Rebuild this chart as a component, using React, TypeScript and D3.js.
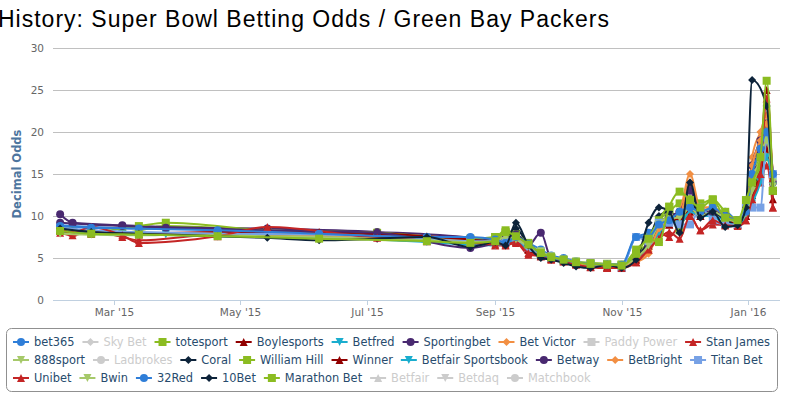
import React from 'react';
import * as d3 from 'd3';

const N = null;

// observation dates shared by all bookmakers
const dates = [
  '2015-02-03', '2015-02-09', '2015-02-18', '2015-03-05', '2015-03-13', '2015-03-26',
  '2015-04-20', '2015-05-14', '2015-06-08', '2015-07-06', '2015-07-30', '2015-08-20',
  '2015-09-01', '2015-09-06', '2015-09-11', '2015-09-17', '2015-09-23', '2015-09-28',
  '2015-10-04', '2015-10-10', '2015-10-17', '2015-10-25', '2015-11-01', '2015-11-08',
  '2015-11-14', '2015-11-19', '2015-11-24', '2015-11-29', '2015-12-04', '2015-12-09',
  '2015-12-15', '2015-12-21', '2015-12-27', '2015-12-31', '2016-01-03', '2016-01-07',
  '2016-01-10', '2016-01-13',
];

const bet365 = [8.9, N, 8.7, N, 8.5, 8.5, N, 8.1, N, 7.8, N, 7.2, 7.0, 7.2, 7.6, 6.8, 6.0, 5.3, 5.0, 4.6, 4.3, 4.2, 4.1, 7.5, 8.0, 9.0, 9.5, 10.0, 11.0, 10.5, 10.0, 10.5, 9.5, 10.5, 15.0, 17.0, 20.0, 15.0];
const totesport = [8.3, 8.2, N, 8.0, N, 8.8, N, 8.2, N, 7.7, N, 7.0, 7.5, 8.0, 7.5, 6.5, 5.5, 5.0, 4.7, 4.5, 4.3, 4.3, 4.2, 5.5, 7.0, 9.5, 10.5, 11.5, 11.0, 10.5, 11.0, 10.0, 9.5, 10.5, 13.0, 15.0, 17.0, 13.0];
const boylesports = [8.4, N, 8.0, N, 7.8, N, 7.9, N, 7.9, N, 7.5, 7.2, 7.0, 6.8, 7.0, 6.0, 5.3, 5.0, 4.8, 4.4, 4.2, 4.0, 4.0, 5.0, 6.5, 8.5, 9.0, 10.0, 11.0, 10.0, 10.5, 10.0, 9.0, 10.0, 13.0, 17.0, 25.0, 13.0];
const betfred = [8.2, 8.0, N, 7.8, N, 7.8, 7.7, N, 7.5, N, 7.0, 6.8, 6.6, 6.8, 7.0, 6.2, 5.5, 5.0, 4.6, 4.4, 4.2, 4.1, 4.0, 4.5, 6.0, 8.0, 9.5, 9.5, 10.5, 10.0, 10.0, 9.5, 9.0, 10.0, 12.0, 15.0, 19.0, 14.0];
const sportingbet = [10.2, 9.2, N, 8.9, N, 8.7, N, 8.5, N, 8.1, N, 7.4, 7.0, 7.2, 7.5, 6.5, 8.0, 5.0, 4.8, 4.4, 4.2, 4.1, 4.1, 5.0, 6.5, 8.5, 9.5, 10.5, 13.5, 10.5, 10.5, 10.0, 9.5, 10.5, 14.0, 19.0, 19.0, 14.0];
const betVictor = [8.5, N, 8.1, N, 8.0, N, 7.9, N, 7.8, N, 7.3, 7.0, 6.8, 7.0, 7.3, 6.3, 5.5, 5.0, 4.6, 4.3, 4.1, 4.0, 4.0, 4.5, 5.5, 8.0, 9.5, 10.5, 15.0, 11.0, 11.0, 10.0, 9.5, 10.5, 17.0, 20.0, 22.0, 15.0];
const stanJames = [8.0, 7.7, 8.3, 7.5, 7.1, N, 7.8, N, 7.5, N, 7.0, 6.8, 6.5, 6.5, 6.8, 5.4, 5.2, 4.8, 4.6, 4.3, 4.0, 3.8, 3.9, 4.5, 6.0, 8.0, 7.5, 9.0, 10.0, 8.3, 9.0, 8.9, 9.0, 9.5, 12.0, 14.0, 16.0, 11.0];
const sport888 = [8.0, N, 7.8, N, 7.7, N, 7.9, N, 7.7, N, 7.2, 7.0, 7.0, 7.6, 7.3, 6.5, 5.8, 5.2, 4.8, 4.6, 4.4, 4.3, 4.2, 5.0, 6.5, 9.0, 10.0, 10.0, 11.0, 10.5, 10.5, 10.0, 9.5, 10.5, 14.0, 18.0, 20.0, 14.0];
const coral = [8.6, N, 8.2, N, 8.0, N, 7.8, 7.5, N, 7.3, N, 6.8, 7.0, 7.5, 8.5, 6.5, 5.3, 4.9, 4.6, 4.3, 4.0, 4.0, 3.9, 5.0, 7.0, 10.0, 10.5, 9.5, 12.0, 10.0, 10.5, 9.5, 9.0, 10.0, 13.0, 16.0, 19.0, 13.0];
const williamHill = [8.4, N, 8.1, N, 8.8, 9.2, N, 8.3, N, 8.0, N, 7.3, 7.5, 8.3, 7.8, 6.8, 5.5, 5.0, 4.7, 4.5, 4.4, 4.3, 4.2, 6.0, 7.5, 9.5, 11.1, 8.3, 12.0, 11.5, 12.0, 10.5, 9.5, 11.0, 13.5, 16.0, 21.0, 13.0];
const winner = [8.2, N, 7.9, N, 7.9, N, 8.1, N, 8.1, N, 7.6, 7.2, 6.9, 7.0, 7.2, 6.0, 5.2, 4.9, 4.6, 4.3, 4.0, 3.9, 3.9, 4.8, 6.5, 8.5, 9.0, 10.0, 10.5, 10.0, 10.5, 10.0, 9.0, 10.0, 12.5, 15.0, 18.0, 12.0];
const betfairSportsbook = [8.1, N, 7.9, N, 7.8, N, 7.6, N, 7.4, N, 6.9, 6.6, 6.5, 6.7, 7.0, 6.0, 5.5, 5.0, 4.6, 4.4, 4.2, 4.1, 4.0, 4.6, 6.0, 8.0, 9.5, 9.0, 10.5, 10.0, 10.0, 9.0, 9.0, 10.0, 11.5, 14.0, 17.0, 13.5];
const betway = [9.2, 9.1, N, 8.8, N, 8.6, N, 8.3, N, 8.0, N, 6.2, 6.8, 7.3, 7.8, 6.5, 5.5, 5.0, 4.7, 4.4, 4.2, 4.1, 4.1, 5.0, 6.5, 9.0, 10.0, 10.5, 13.0, 10.5, 10.5, 10.0, 9.5, 10.5, 16.0, 19.0, 21.0, 15.0];
const betBright = [8.6, N, 8.2, N, 8.0, N, 7.9, N, 7.7, N, 7.2, 6.9, 6.8, 7.0, 7.4, 6.3, 5.4, 5.0, 4.6, 4.3, 4.1, 3.9, 3.9, 4.8, 5.8, 8.5, 9.5, 10.0, 14.0, 11.0, 11.0, 10.0, 9.5, 11.0, 16.0, 19.0, 21.0, 15.0];
const titanBet = [8.6, N, 8.3, N, 8.1, N, 7.9, N, 7.8, N, 7.3, 7.0, 7.0, 7.0, 7.2, 6.2, 5.5, 5.0, 4.7, 4.5, 4.3, 4.2, 3.8, 7.5, 7.0, 9.2, 9.2, 9.0, 9.0, 11.0, 9.5, 9.0, 9.0, 11.0, 11.0, 11.0, 19.0, 15.0];
const unibet = [8.3, 8.0, 8.7, 7.7, 6.8, N, 7.6, 8.7, N, 7.4, N, 6.8, 6.6, 6.6, 6.9, 5.6, 5.3, 4.9, 4.6, 4.2, 3.9, 3.8, 3.8, 4.5, 6.0, 7.3, 8.1, 7.3, 10.0, 8.3, 9.5, 8.9, 8.8, 9.5, 12.0, 15.0, 24.0, 11.0];
const bwin = [7.9, N, 7.8, N, 7.8, N, 7.7, N, 7.5, N, 7.1, 6.9, 7.0, 7.5, 7.2, 6.4, 5.6, 5.1, 4.8, 4.5, 4.3, 4.2, 4.1, 5.0, 6.5, 9.0, 9.8, 9.8, 11.0, 10.0, 10.5, 9.8, 9.3, 10.3, 13.0, 17.0, 19.0, 13.5];
const red32 = [8.8, N, 8.6, N, 8.5, N, 8.3, N, 7.9, N, 7.5, 7.5, 7.2, 6.8, 7.5, 6.7, 5.5, 5.0, 4.7, 4.5, 4.3, 4.2, 4.2, 7.5, 7.5, 9.0, 9.5, 10.5, 11.0, 10.5, 11.0, 10.0, 9.5, 10.5, 15.0, 18.0, 20.0, 15.0];
const bet10 = [8.5, N, 8.1, N, 7.9, N, 7.6, 7.4, 7.1, N, 7.5, 6.3, 6.9, 6.5, 9.2, 6.5, 5.0, 4.8, 4.4, 4.0, 3.8, 4.2, 3.8, 4.8, 9.2, 11.0, 10.5, 8.0, 14.0, 9.8, 10.5, 8.7, 8.9, 11.0, 26.2, N, 23.1, 13.0];
const marathonBet = [8.2, N, 7.9, N, 7.8, N, 7.6, N, 7.3, N, 7.0, 6.8, 7.0, 8.1, 7.6, 6.6, 5.6, 5.1, 4.8, 4.5, 4.3, 4.2, 4.1, 5.5, 7.3, 6.9, 11.1, 12.9, 11.9, 11.0, 11.9, 9.8, 9.5, 11.9, 14.0, 17.0, 26.1, 13.0];

const yTicks = [0, 5, 10, 15, 20, 25, 30];
const xTicks = ['2015-03-01', '2015-05-01', '2015-07-01', '2015-09-01', '2015-11-01', '2016-01-01'];

type Sym = 'circle' | 'diamond' | 'square' | 'triangle' | 'triangle-down';
interface Series { name: string; color: string; symbol: Sym; values: (number | null)[]; visible: boolean }

const series: Series[] = [
  { name: 'bet365', color: '#2f7ed8', symbol: 'circle', values: bet365, visible: true },
  { name: 'Sky Bet', color: '#0d233a', symbol: 'diamond', values: [], visible: false },
  { name: 'totesport', color: '#8bbc21', symbol: 'square', values: totesport, visible: true },
  { name: 'Boylesports', color: '#910000', symbol: 'triangle', values: boylesports, visible: true },
  { name: 'Betfred', color: '#1aadce', symbol: 'triangle-down', values: betfred, visible: true },
  { name: 'Sportingbet', color: '#492970', symbol: 'circle', values: sportingbet, visible: true },
  { name: 'Bet Victor', color: '#f28f43', symbol: 'diamond', values: betVictor, visible: true },
  { name: 'Paddy Power', color: '#77a1e5', symbol: 'square', values: [], visible: false },
  { name: 'Stan James', color: '#c42525', symbol: 'triangle', values: stanJames, visible: true },
  { name: '888sport', color: '#a6c96a', symbol: 'triangle-down', values: sport888, visible: true },
  { name: 'Ladbrokes', color: '#2f7ed8', symbol: 'circle', values: [], visible: false },
  { name: 'Coral', color: '#0d233a', symbol: 'diamond', values: coral, visible: true },
  { name: 'William Hill', color: '#8bbc21', symbol: 'square', values: williamHill, visible: true },
  { name: 'Winner', color: '#910000', symbol: 'triangle', values: winner, visible: true },
  { name: 'Betfair Sportsbook', color: '#1aadce', symbol: 'triangle-down', values: betfairSportsbook, visible: true },
  { name: 'Betway', color: '#492970', symbol: 'circle', values: betway, visible: true },
  { name: 'BetBright', color: '#f28f43', symbol: 'diamond', values: betBright, visible: true },
  { name: 'Titan Bet', color: '#77a1e5', symbol: 'square', values: titanBet, visible: true },
  { name: 'Unibet', color: '#c42525', symbol: 'triangle', values: unibet, visible: true },
  { name: 'Bwin', color: '#a6c96a', symbol: 'triangle-down', values: bwin, visible: true },
  { name: '32Red', color: '#2f7ed8', symbol: 'circle', values: red32, visible: true },
  { name: '10Bet', color: '#0d233a', symbol: 'diamond', values: bet10, visible: true },
  { name: 'Marathon Bet', color: '#8bbc21', symbol: 'square', values: marathonBet, visible: true },
  { name: 'Betfair', color: '#910000', symbol: 'triangle', values: [], visible: false },
  { name: 'Betdaq', color: '#1aadce', symbol: 'triangle-down', values: [], visible: false },
  { name: 'Matchbook', color: '#492970', symbol: 'circle', values: [], visible: false },
];

// legend rows start at these entries
const legendRowStarts = ['888sport', 'Unibet'];

const W = 789;
const H = 397;
const plotLeft = 53;
const plotRight = 780;
const plotTop = 48;
const plotBottom = 300;
const FONT = "'DejaVu Sans', Verdana, sans-serif";
const LEGEND_FONT_SIZE = 11.4;

const parse = d3.utcParse('%Y-%m-%d');

function symbolPath(s: Sym, x: number, y: number, r = 4): string {
  switch (s) {
    case 'circle':
      return `M${x - r},${y}A${r},${r} 0 1,0 ${x + r},${y}A${r},${r} 0 1,0 ${x - r},${y}Z`;
    case 'square':
      return `M${x - r},${y - r}h${2 * r}v${2 * r}h${-2 * r}Z`;
    case 'diamond':
      return `M${x},${y - r}L${x + r},${y}L${x},${y + r}L${x - r},${y}Z`;
    case 'triangle':
      return `M${x},${y - r}L${x + r},${y + r}L${x - r},${y + r}Z`;
    default:
      return `M${x - r},${y - r}L${x + r},${y - r}L${x},${y + r}Z`;
  }
}

let ctx: CanvasRenderingContext2D | null = null;
function textWidth(t: string): number {
  if (!ctx) ctx = document.createElement('canvas').getContext('2d');
  if (!ctx) return t.length * 6.5;
  ctx.font = `${LEGEND_FONT_SIZE}px ${FONT}`;
  return ctx.measureText(t).width;
}

const App: React.FC = () => {
  const x = d3.scaleUtc()
    .domain([parse('2015-03-01')!, parse('2016-01-01')!])
    .range([114, 748]);
  const y = d3.scaleLinear().domain([0, 30]).range([plotBottom, plotTop]);

  const line = d3.line<{ d: Date; v: number }>()
    .x(p => x(p.d))
    .y(p => y(p.v))
    .curve(d3.curveMonotoneX);

  const parsedDates = dates.map(d => parse(d)!);

  // legend flow layout
  const legendLeft = 13;
  let cx = legendLeft;
  let row = 0;
  const legendItems = series.map(s => {
    if (legendRowStarts.includes(s.name)) {
      row++;
      cx = legendLeft;
    }
    const item = { s, x: cx, row };
    cx += 21 + textWidth(s.name) + 8;
    return item;
  });

  return (
    <svg width={W} height={H} style={{ position: 'absolute', left: 0, top: 0, fontFamily: FONT }}>
      <rect width={W} height={H} fill="#fff" />

      {/* grid */}
      {yTicks.map(t => (
        <line key={t} x1={plotLeft} x2={plotRight} y1={y(t) + 0.5} y2={y(t) + 0.5}
          stroke={t === 0 ? '#C0D0E0' : '#C0C0C0'} strokeWidth={1} />
      ))}
      {yTicks.map(t => (
        <text key={'l' + t} x={44} y={y(t) + 4} textAnchor="end" fontSize={10.5} fill="#666">{t}</text>
      ))}

      {/* x axis */}
      {xTicks.map(t => {
        const px = Math.round(x(parse(t)!)) + 0.5;
        return (
          <g key={t}>
            <line x1={px} x2={px} y1={plotBottom} y2={plotBottom + 5} stroke="#C0D0E0" />
            <text x={px} y={plotBottom + 16} textAnchor="middle" fontSize={10.5} fill="#666">
              {d3.utcFormat("%b '%y")(parse(t)!)}
            </text>
          </g>
        );
      })}

      <text transform={`translate(21,${(plotTop + plotBottom) / 2}) rotate(-90)`} textAnchor="middle"
        fontSize={11.5} fontWeight="bold" fill="#4d759e">Decimal Odds</text>

      {/* series */}
      {series.filter(s => s.visible).map(s => {
        const pts = s.values
          .map((v, i) => ({ d: parsedDates[i], v }))
          .filter(p => p.v !== null) as { d: Date; v: number }[];
        return (
          <g key={s.name}>
            <path d={line(pts) || ''} fill="none" stroke={s.color} strokeWidth={2}
              strokeLinejoin="round" strokeLinecap="round" />
            {pts.map((p, i) => (
              <path key={i} d={symbolPath(s.symbol, x(p.d), y(p.v))} fill={s.color} />
            ))}
          </g>
        );
      })}

      {/* legend */}
      <rect x={6.5} y={328.5} width={771} height={63} rx={5} ry={5} fill="none" stroke="#909090" strokeWidth={1} />
      {legendItems.map(({ s, x: lx, row: r }) => {
        const cy = 342 + r * 18;
        const col = s.visible ? s.color : '#CCC';
        return (
          <g key={s.name}>
            <line x1={lx} x2={lx + 16} y1={cy} y2={cy} stroke={col} strokeWidth={2} />
            <path d={symbolPath(s.symbol, lx + 8, cy)} fill={col} />
            <text x={lx + 21} y={cy + 4} fontSize={LEGEND_FONT_SIZE} fill={s.visible ? '#274b6d' : '#CCC'}>
              {s.name}
            </text>
          </g>
        );
      })}

      <text x={-2} y={27} fontSize={23} letterSpacing={1}
        fontFamily="'Liberation Sans', Arial, sans-serif" fill="#000">
        History: Super Bowl Betting Odds / Green Bay Packers
      </text>
    </svg>
  );
};

export default App;
